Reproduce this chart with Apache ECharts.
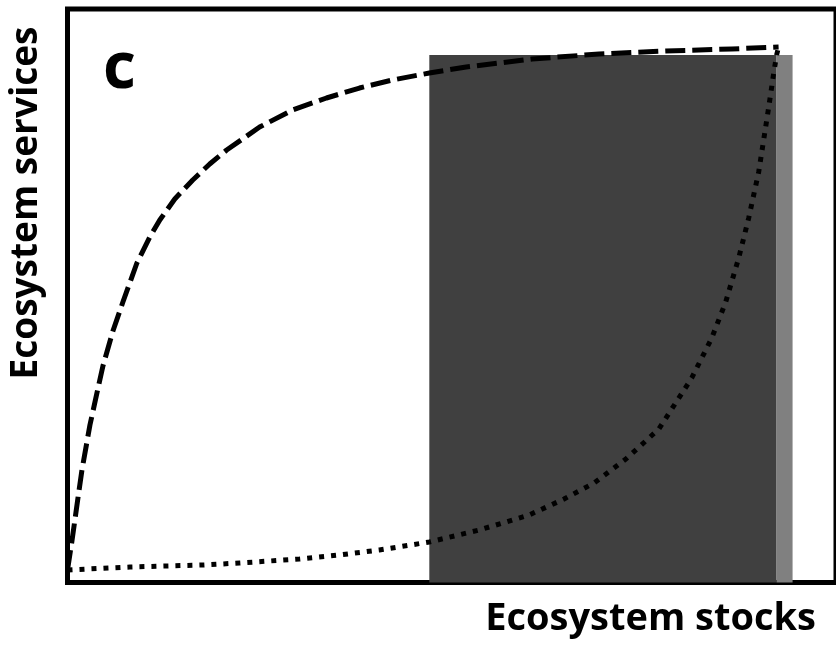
<!DOCTYPE html>
<html>
<head>
<meta charset="utf-8">
<script src="https://cdn.jsdelivr.net/npm/echarts@6/dist/echarts.min.js"></script>
<style>html,body{margin:0;padding:0;background:#fff;}#c{width:836px;height:647px;}</style>
</head>
<body>
<div id="c"></div>
<script>
// Dashed curve (concave): ecosystem stocks vs services
const dashedX = [0, 0.58, 1.36, 1.88, 2.92, 3.83, 4.61, 5.91, 7.21, 9.03, 10.71, 12.01, 13.96, 16.30, 18.51, 20.71, 25.0, 29.29, 33.70, 37.99, 42.27, 47.08, 51.88, 60.45, 69.16, 77.86, 86.43, 92.53];
const dashedY = [2.18, 7.24, 14.73, 19.62, 27.46, 33.04, 37.75, 43.85, 48.91, 55.71, 60.24, 63.21, 66.87, 70.18, 72.97, 75.41, 79.42, 82.39, 84.48, 86.22, 87.62, 88.84, 89.89, 91.28, 92.15, 92.68, 93.03, 93.37];
// Dotted curve (convex)
const dottedX = [0, 8.12, 17.6, 22.4, 30.19, 35.39, 40.58, 47.08, 53.57, 60.06, 64.61, 68.51, 72.66, 76.95, 81.23, 83.83, 85.65, 87.34, 88.64, 89.94, 91.23, 91.88, 92.27, 92.53];
const dottedY = [2.18, 2.70, 3.05, 3.40, 4.10, 4.80, 5.67, 7.06, 9.15, 11.77, 14.56, 17.35, 21.53, 26.77, 35.66, 42.63, 48.91, 56.58, 63.56, 71.58, 82.74, 88.67, 91.98, 93.37];
// Shaded ranges [xStart, xEnd, top]
const darkRange = [47.08, 92.27, 91.98];
const lightRange = [92.27, 94.35, 91.98];
const panelLabel = 'c';
const xTitle = 'Ecosystem stocks';
const yTitle = 'Ecosystem services';

const zip = (xs, ys) => xs.map((x, i) => [x, ys[i]]);
const chart = echarts.init(document.getElementById('c'));
const FONT = 'Open Sans';
chart.setOption({
  animation: false,
  grid: { left: 67.5, top: 9, width: 770, height: 573.5, show: true, borderColor: '#000', borderWidth: 5, backgroundColor: 'transparent' },
  xAxis: { type: 'value', min: 0, max: 100, show: false },
  yAxis: { type: 'value', min: 0, max: 100, show: false },
  graphic: [
    { type: 'text', left: 103, top: 38, style: { text: panelLabel, font: 'bold 64px "' + FONT + '"', fill: '#000' } },
    { type: 'text', x: 816, y: 600, style: { text: xTitle, font: 'bold 38px "' + FONT + '"', fill: '#000', textAlign: 'right', textVerticalAlign: 'top' } },
    { type: 'text', x: 8, y: 203, rotation: Math.PI / 2, style: { text: yTitle, font: 'bold 37px "' + FONT + '"', fill: '#000', textAlign: 'center', textVerticalAlign: 'top' } }
  ],
  series: [
    {
      type: 'line', data: [], z: 1,
      markArea: {
        silent: true,
        data: [
          [{ xAxis: darkRange[0], yAxis: 0, itemStyle: { color: '#404040', opacity: 1 } }, { xAxis: darkRange[1], yAxis: darkRange[2] }],
          [{ xAxis: lightRange[0], yAxis: 0, itemStyle: { color: '#808080', opacity: 1 } }, { xAxis: lightRange[1], yAxis: lightRange[2] }]
        ]
      }
    },
    {
      type: 'line', data: zip(dashedX, dashedY), z: 3, showSymbol: false, smooth: false,
      lineStyle: { color: '#000', width: 5, type: [20, 7], cap: 'butt', join: 'round' }
    },
    {
      type: 'line', data: zip(dottedX, dottedY), z: 3, showSymbol: false, smooth: false,
      lineStyle: { color: '#000', width: 5, type: [5, 7], cap: 'butt', join: 'round' }
    }
  ]
});
</script>
</body>
</html>
